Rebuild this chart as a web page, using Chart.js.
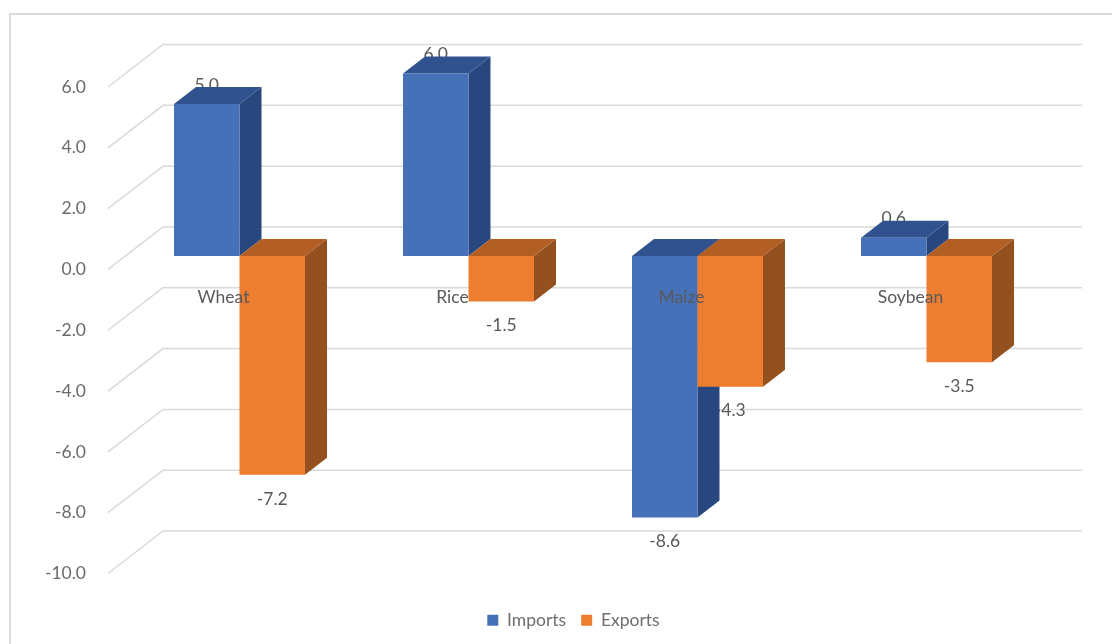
<!DOCTYPE html>
<html>
<head>
<meta charset="utf-8">
<title>Imports and exports</title>
<script src="https://cdn.jsdelivr.net/npm/chart.js@4"></script>
<style>
    body { margin: 0; background: #fff; }
    #frame { position: absolute; left: 9px; top: 13px; right: 0; bottom: 0; border-left: 2px solid #d9d9d9; border-top: 2px solid #d9d9d9; }
    #chart { position: absolute; left: 0; top: 0; display: block; }
</style>
</head>
<body>
<div id="frame"></div>
<canvas id="chart" width="1112" height="644"></canvas>
<script>
const categories = ['Wheat', 'Rice', 'Maize', 'Soybean'];
const imports = [5.0, 6.0, -8.6, 0.6];
const exports_ = [-7.2, -1.5, -4.3, -3.5];

// 3d look, all in pixels
const wallX = 54, wallY = 42.5;     // front of the floor to the back wall
const shiftX = 16, shiftY = 13.5;   // bars stand this far in from the front
const barX = 22, barY = 17;         // depth of a bar

const darker = {
    Imports: { top: '#30538f', side: '#29477f' },
    Exports: { top: '#b35f24', side: '#94511f' }
};

function drawSides(chart, i) {
    const ctx = chart.ctx;
    const colors = darker[chart.data.datasets[i].label];
    chart.getDatasetMeta(i).data.forEach(bar => {
        const l = bar.x - bar.width / 2;
        const r = bar.x + bar.width / 2;
        const t = Math.min(bar.y, bar.base);
        const b = Math.max(bar.y, bar.base);

        ctx.fillStyle = colors.side;
        ctx.beginPath();
        ctx.moveTo(r, t);
        ctx.lineTo(r + barX, t - barY);
        ctx.lineTo(r + barX, b - barY);
        ctx.lineTo(r, b);
        ctx.closePath();
        ctx.fill();

        ctx.fillStyle = colors.top;
        ctx.beginPath();
        ctx.moveTo(l, t);
        ctx.lineTo(l + barX, t - barY);
        ctx.lineTo(r + barX, t - barY);
        ctx.lineTo(r, t);
        ctx.closePath();
        ctx.fill();
    });
}

const fakeDepth = {
    id: 'fakeDepth',
    afterLayout(chart) {
        // legend sits lower and further right than chart.js puts it
        chart.legend.left += 38;
        chart.legend.right += 38;
        chart.legend.top += 23;
        chart.legend.bottom += 23;
    },
    beforeDatasetsDraw(chart) {
        const ctx = chart.ctx;
        const y = chart.scales.y;
        const area = chart.chartArea;

        // floor lines and back wall
        ctx.save();
        ctx.strokeStyle = '#d9d9d9';
        ctx.lineWidth = 1.5;
        y.ticks.forEach(t => {
            const py = y.getPixelForValue(t.value);
            ctx.beginPath();
            ctx.moveTo(area.left - 1, py);
            ctx.lineTo(area.left + wallX, py - wallY);
            ctx.lineTo(area.right + 57, py - wallY);
            ctx.stroke();
        });
        ctx.restore();

        // bars get moved back
        ctx.save();
        ctx.translate(shiftX, -shiftY);

        // value labels go under the bars, the tops cut into them
        ctx.fillStyle = '#595959';
        ctx.font = '17.5px Lato';
        ctx.textAlign = 'center';
        ctx.textBaseline = 'middle';
        chart.data.datasets.forEach((ds, i) => {
            chart.getDatasetMeta(i).data.forEach((bar, j) => {
                const v = ds.data[j];
                ctx.fillText(v.toFixed(1), bar.x, bar.y + (v < 0 ? 24 : -19));
            });
        });

        // chart.js paints the first dataset last, here exports must cover imports
        chart.data.datasets.forEach((ds, i) => {
            drawSides(chart, i);
            chart.getDatasetMeta(i).controller.draw();
        });
        ctx.restore();
    },
    beforeDatasetDraw() {
        return false;
    }
};

new Chart(document.querySelector('#chart').getContext('2d'), {
    type: 'bar',
    data: {
        labels: categories,
        datasets: [
            { label: 'Imports', data: imports, backgroundColor: '#4671b8' },
            { label: 'Exports', data: exports_, backgroundColor: '#ed7d31' }
        ]
    },
    plugins: [fakeDepth],
    options: {
        responsive: false,
        animation: false,
        categoryPercentage: 0.572,
        barPercentage: 1,
        layout: { padding: { left: 46, right: 87, top: 87, bottom: 28 } },
        plugins: {
            tooltip: { enabled: false },
            legend: {
                position: 'bottom',
                labels: {
                    boxWidth: 11,
                    boxHeight: 11,
                    padding: 15,
                    color: '#6e6e6e',
                    font: { family: 'Lato', size: 17.5 }
                }
            }
        },
        scales: {
            x: {
                position: { y: 0 },
                grid: { display: false },
                border: { display: false },
                ticks: { z: 1, padding: 9, color: '#595959', font: { family: 'Lato', size: 17.5 } }
            },
            y: {
                min: -10,
                max: 6,
                grid: { display: false, drawTicks: false },
                border: { display: false },
                afterFit(scale) { scale.width = 63; },
                ticks: {
                    stepSize: 2,
                    padding: 23,
                    color: '#6b6b6b',
                    font: { family: 'Lato', size: 17.5 },
                    callback: v => v.toFixed(1)
                }
            }
        }
    }
});
</script>
</body>
</html>
